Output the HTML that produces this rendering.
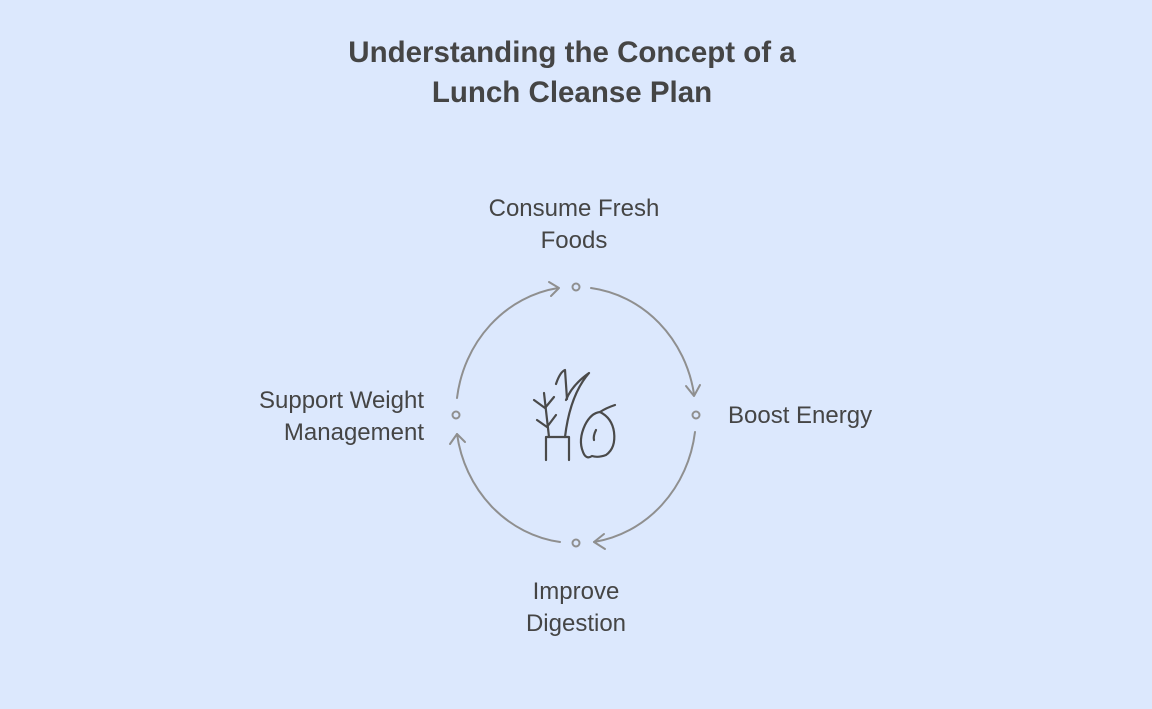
<!DOCTYPE html>
<html><head><meta charset="utf-8"><style>
html,body{margin:0;padding:0;}
body{width:1152px;height:704px;background:#dce8fd;overflow:hidden;position:relative;font-family:"Liberation Sans",sans-serif;}
</style></head><body>
<svg width="1152" height="704" viewBox="0 0 1152 704" xmlns="http://www.w3.org/2000/svg">
<rect width="1152" height="704" fill="#dce8fd"/>
<g font-family="Liberation Sans, sans-serif" fill="#454545">
<text x="572" y="62" font-size="29.5" font-weight="bold" text-anchor="middle">Understanding the Concept of a</text>
<text x="572" y="102" font-size="29.5" font-weight="bold" text-anchor="middle">Lunch Cleanse Plan</text>
<g font-size="24">
<text x="574" y="216" text-anchor="middle">Consume Fresh</text>
<text x="574" y="248" text-anchor="middle">Foods</text>
<text x="728" y="423">Boost Energy</text>
<text x="424" y="408" text-anchor="end">Support Weight</text>
<text x="424" y="440" text-anchor="end">Management</text>
<text x="576" y="599" text-anchor="middle">Improve</text>
<text x="576" y="631" text-anchor="middle">Digestion</text>
</g>
</g>
<g fill="none" stroke="#8f8f8f" stroke-width="2" stroke-linecap="round" stroke-linejoin="round">
<path d="M591 288 A120 128 0 0 1 694 394"/>
<polyline points="686,386 694,396 700,385"/>
<path d="M695 432 A120 128 0 0 1 594 542"/>
<polyline points="604,534 594,542 605,549"/>
<path d="M560 542 A120 128 0 0 1 457 434"/>
<polyline points="450,444 457,434 465,442"/>
<path d="M457 398 A120 128 0 0 1 558 288"/>
<polyline points="549,282 559,288 551,296"/>
<circle cx="576" cy="287" r="3.5"/>
<circle cx="696" cy="415" r="3.5"/>
<circle cx="576" cy="543" r="3.5"/>
<circle cx="456" cy="415" r="3.5"/>
</g>
<g fill="none" stroke="#4a4a4a" stroke-width="2.2" stroke-linecap="round" stroke-linejoin="round">
<polyline points="546,460 546,437 569,437 569,460"/>
<path d="M549 437 L544 393"/>
<path d="M534 400 L545 408 L554 397"/>
<path d="M537 420 L547 427 L556 415"/>
<path d="M565 437 Q570 395 589 373 Q572 385 566 400"/>
<path d="M556 384 Q560 372 565 370 Q566 385 567 399"/>
<path d="M600 412 Q612 418 614 432 Q616 448 606 455 Q598 458 592 456 Q586 460 583 452 Q578 440 585 425 Q591 413 600 412 Z"/>
<path d="M600 412 Q606 408 615 405"/>
<path d="M596 430 Q593 436 594 440"/>
</g>
</svg>
</body></html>
